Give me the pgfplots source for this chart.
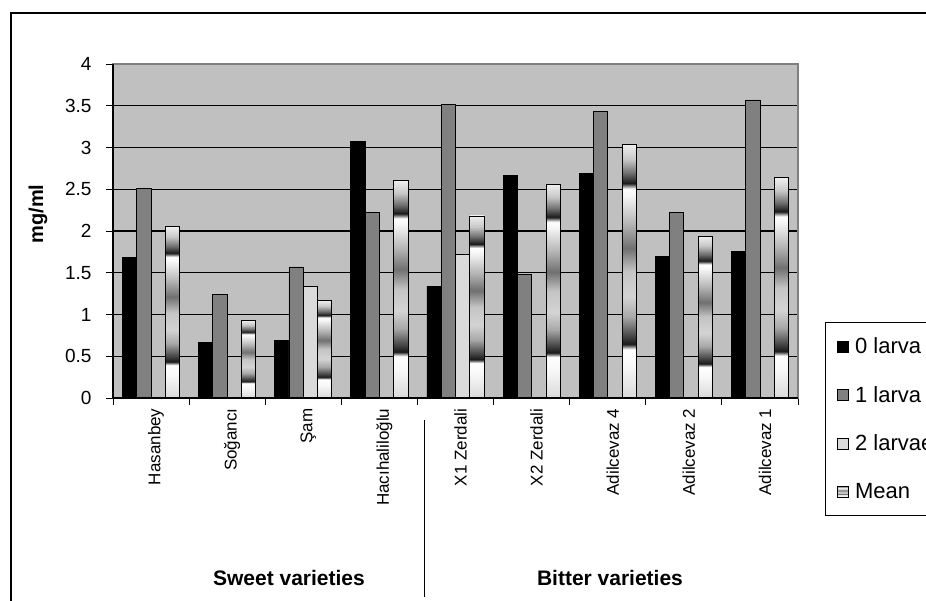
\documentclass[border=0pt]{standalone}
\usepackage{pgfplots}
\pgfplotsset{compat=1.18}
\usepackage{fontspec}
\setmainfont{Liberation Sans}
\definecolor{plotbg}{HTML}{C0C0C0}
\definecolor{barone}{HTML}{808080}
\definecolor{bartwo}{HTML}{DADADA}
\pgfdeclareverticalshading{meanshade}{100bp}{color(0bp)=(black!15); color(25bp)=(black!15); color(31.5bp)=(black!3); color(34.6bp)=(white); color(35.6bp)=(black!90); color(37bp)=(black!75); color(41bp)=(black!34); color(45bp)=(black!17); color(50bp)=(black!23); color(54.5bp)=(black!56); color(59.5bp)=(black!28); color(64.75bp)=(black!4); color(66.2bp)=(white); color(67.3bp)=(black!90); color(69.35bp)=(black!56); color(72bp)=(black!22); color(75bp)=(black!6); color(100bp)=(black!6)}
\pgfplotsset{sqlegend/.style={legend image code/.code={\draw[##1, draw=black, line width=0.6pt] (0pt,-5.5pt) rectangle (11pt,5.5pt);}},
  meanbar/.style={shade, shading=meanshade, draw=black, line width=0.8pt, bar shift=21.45pt, sqlegend}}
\begin{document}
\begin{tikzpicture}
\begin{axis}[
  at={(113pt,202pt)}, anchor=south west,
  scale only axis, width=685pt, height=334pt,
  ybar=0pt, bar width=14.3pt,
  xmin=-0.5, xmax=8.5, ymin=0, ymax=4,
  ytick={0,0.5,...,4},
  yticklabel style={/pgf/number format/fixed, /pgf/number format/assume math mode=true, font=\fontsize{19}{22}\selectfont, xshift=-11pt},
  xtick={0,...,8},
  xticklabels={Hasanbey,Soğancı,Şam,Hacıhaliloğlu,X1 Zerdali,X2 Zerdali,Adilcevaz 4,Adilcevaz 2,Adilcevaz 1},
  xticklabel style={rotate=90, anchor=east, font=\fontsize{17}{20}\selectfont, yshift=-5pt},
  major x tick style={draw=none},
  minor xtick={-0.5,0.5,...,8.5},
  minor x tick style={black, line width=1pt},
  major y tick style={black, line width=1pt},
  tick align=outside, tick pos=left,
  major tick length=7pt, minor tick length=7pt,
  ymajorgrids, grid style={black, line width=1.2pt},
  axis background/.style={fill=plotbg},
  axis line style={draw=black!50, line width=1.2pt},
  legend style={at={(1.0394,0.2275)}, anchor=north west, draw=black, line width=1pt, fill=white,
    font=\fontsize{22}{24}\selectfont, row sep=29pt, column sep=5pt, inner xsep=12pt, inner ysep=14.5pt,
    nodes={inner sep=1pt}},
  legend cell align=left,
  after end axis/.code={\draw[black, line width=2pt] (rel axis cs:0,1) -- (rel axis cs:0,0) -- (rel axis cs:1,0);},
]
\addplot[fill=black, draw=black, line width=0.8pt, bar shift=-21.45pt, sqlegend] coordinates {(0,1.68) (1,0.67) (2,0.69) (3,3.07) (4,1.34) (5,2.66) (6,2.69) (7,1.70) (8,1.75)};
\addplot[fill=barone, draw=black, line width=0.8pt, bar shift=-7.15pt, sqlegend] coordinates {(0,2.51) (1,1.24) (2,1.57) (3,2.22) (4,3.52) (5,1.48) (6,3.43) (7,2.22) (8,3.57)};
\addplot[fill=bartwo, draw=black, line width=0.8pt, bar shift=7.15pt, sqlegend] coordinates {(2,1.34) (4,1.72)};
\addplot[meanbar] coordinates {(0,2.05)};
\addplot[meanbar, forget plot] coordinates {(1,0.93)};
\addplot[meanbar, forget plot] coordinates {(2,1.17)};
\addplot[meanbar, forget plot] coordinates {(3,2.61)};
\addplot[meanbar, forget plot] coordinates {(4,2.18)};
\addplot[meanbar, forget plot] coordinates {(5,2.56)};
\addplot[meanbar, forget plot] coordinates {(6,3.04)};
\addplot[meanbar, forget plot] coordinates {(7,1.94)};
\addplot[meanbar, forget plot] coordinates {(8,2.64)};
\legend{0 larva,1 larva,2 larvae,Mean}
\end{axis}
\node[rotate=90, font=\bfseries\fontsize{20}{22}\selectfont] at (38pt,386pt) {mg/ml};
\node[font=\bfseries\fontsize{21}{24}\selectfont] at (289pt,22pt) {Sweet varieties};
\node[font=\bfseries\fontsize{21}{24}\selectfont] at (610pt,22pt) {Bitter varieties};
\draw[line width=1pt] (424pt,3pt) -- (424pt,180pt);
\draw[line width=1.3pt] (11pt,-5pt) -- (11pt,587pt) -- (940pt,587pt);
\pgfresetboundingbox
\useasboundingbox (0,0) rectangle (926pt,600pt);
\end{tikzpicture}
\end{document}
